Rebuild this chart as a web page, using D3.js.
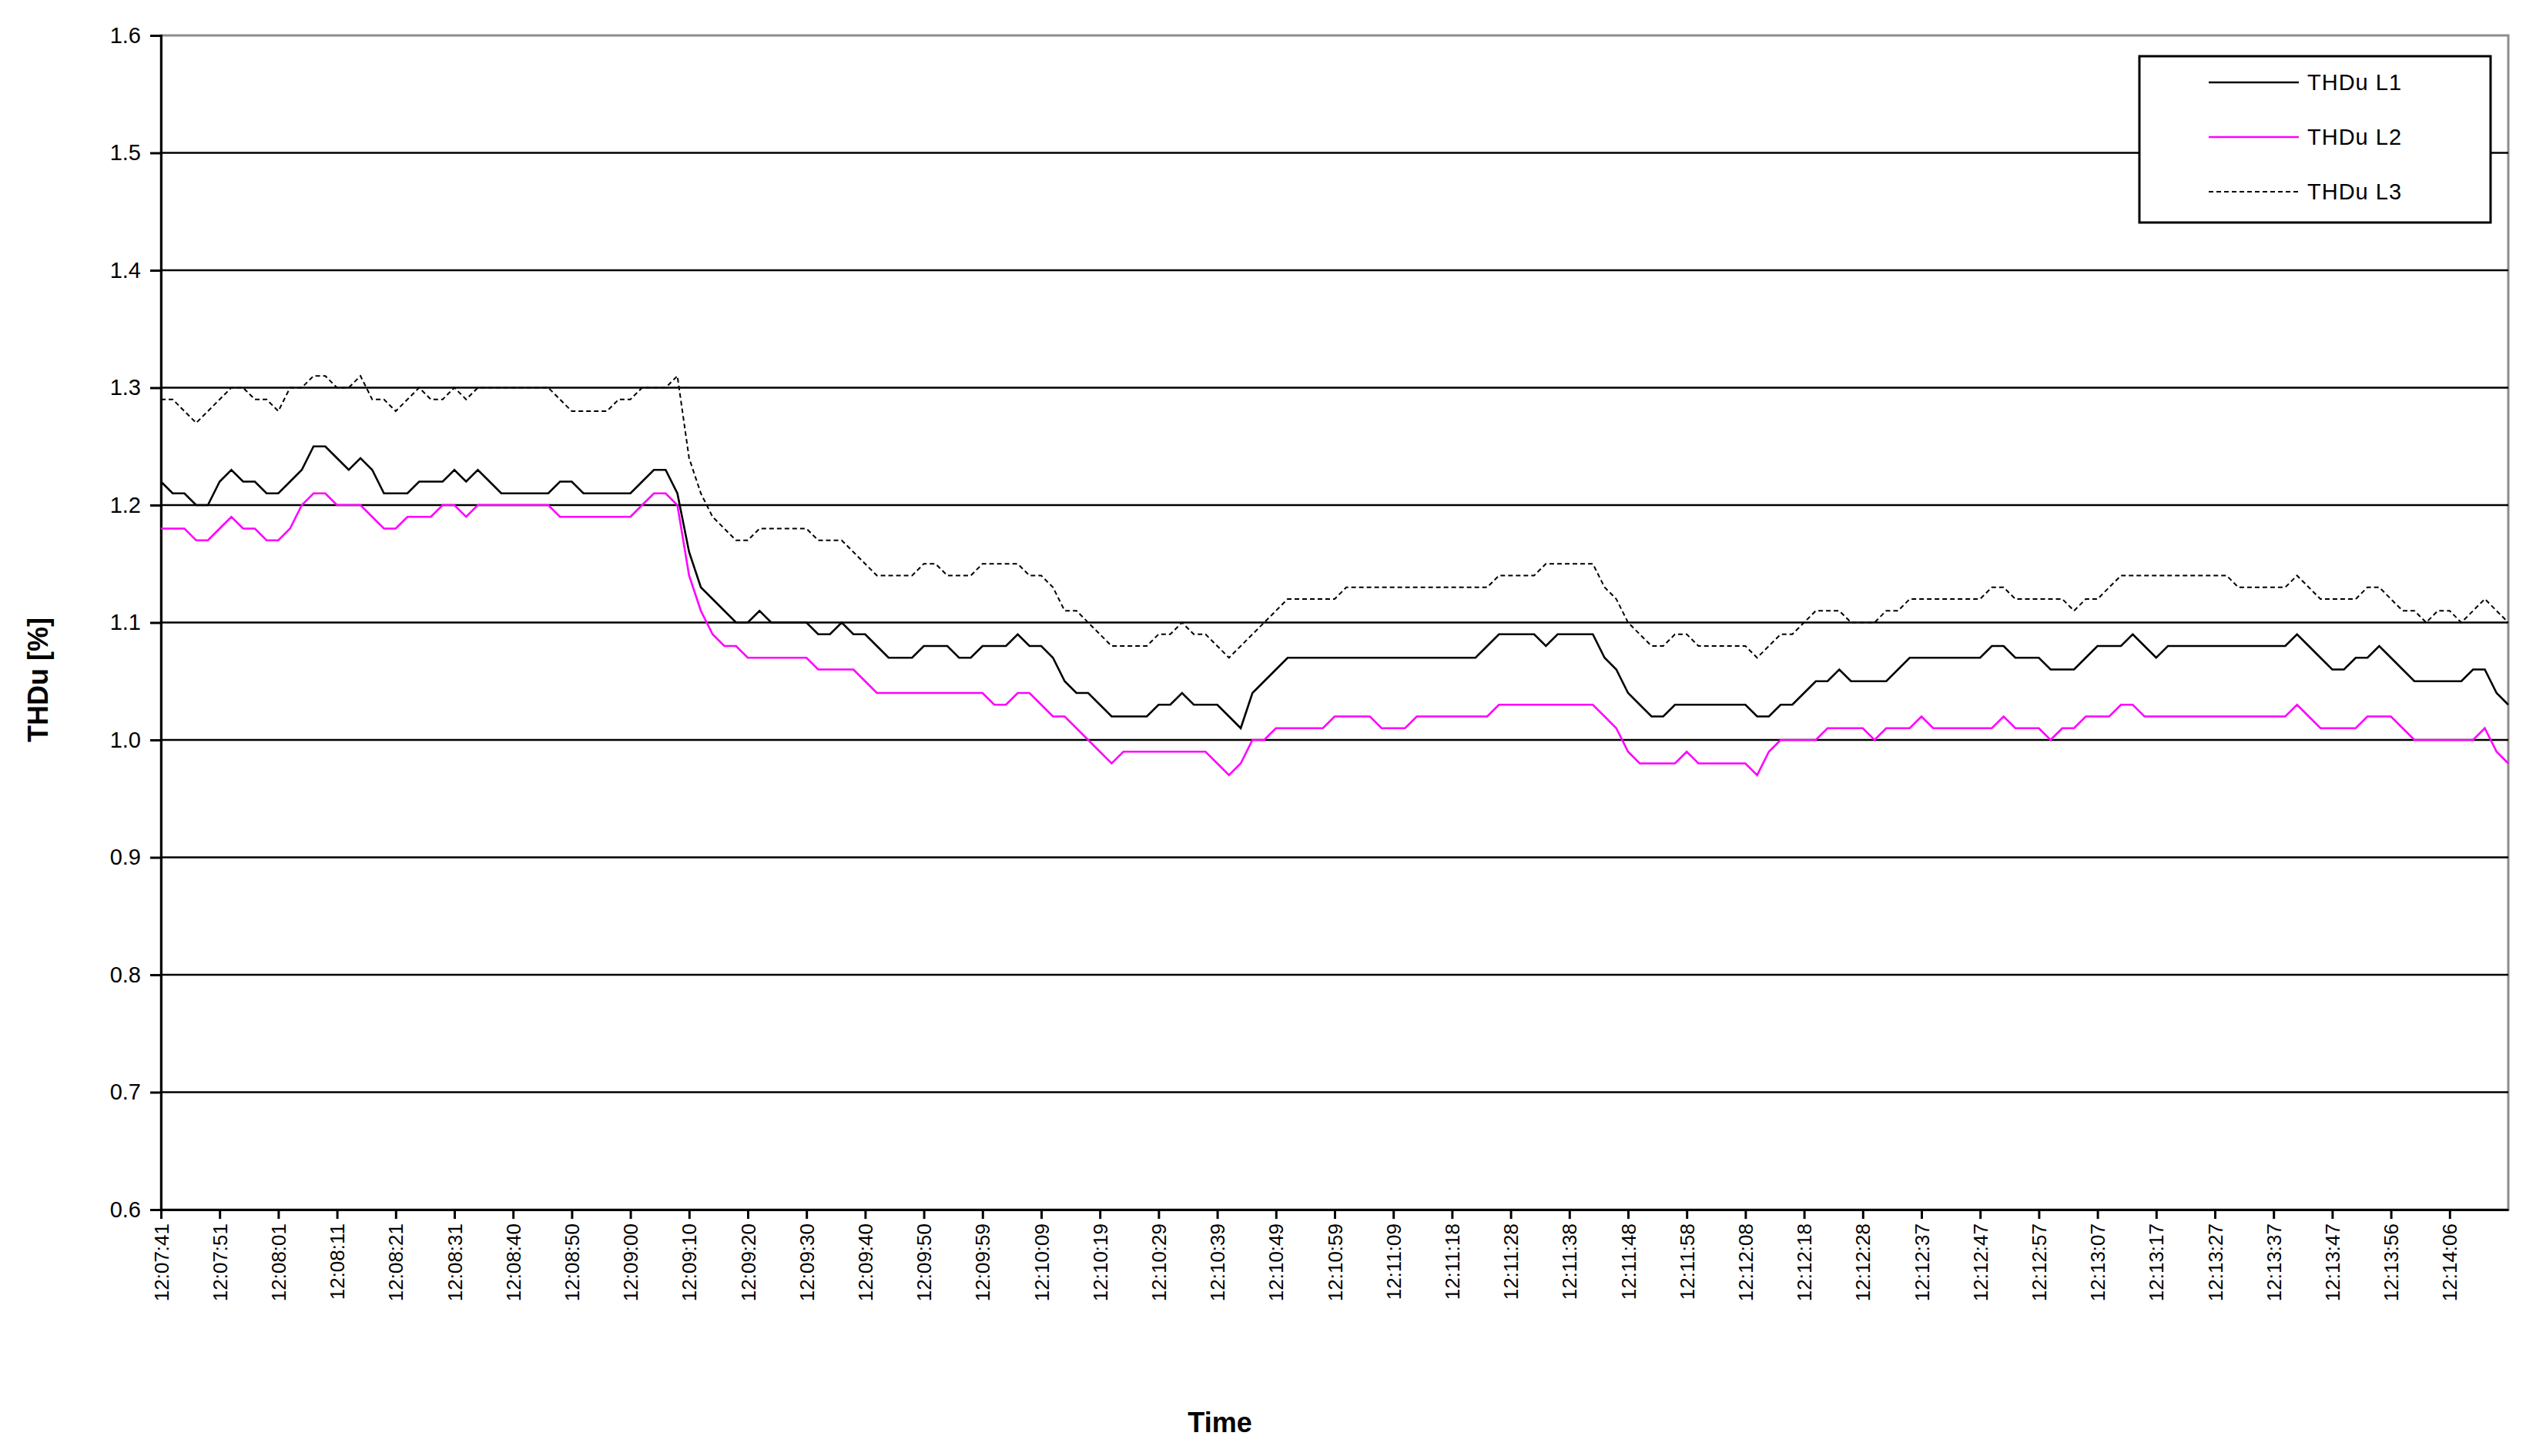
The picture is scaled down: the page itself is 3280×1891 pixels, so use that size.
<!DOCTYPE html>
<html>
<head>
<meta charset="UTF-8" />
<style>
  body { margin: 0; background: #fff; }
  text { font-family: "Liberation Sans", Arial, sans-serif; }
</style>
</head>
<body>
<script src="https://d3js.org/d3.v7.min.js"></script>
<svg id="chart" width="3280" height="1891"></svg>
<script>
// one point per two samples; a time label every 5 points
var timeLabels = ['12:07:41','12:07:51','12:08:01','12:08:11','12:08:21','12:08:31','12:08:40','12:08:50',
  '12:09:00','12:09:10','12:09:20','12:09:30','12:09:40','12:09:50','12:09:59','12:10:09','12:10:19',
  '12:10:29','12:10:39','12:10:49','12:10:59','12:11:09','12:11:18','12:11:28','12:11:38','12:11:48',
  '12:11:58','12:12:08','12:12:18','12:12:28','12:12:37','12:12:47','12:12:57','12:13:07','12:13:17',
  '12:13:27','12:13:37','12:13:47','12:13:56','12:14:06'];
var yTicks = [0.6, 0.7, 0.8, 0.9, 1.0, 1.1, 1.2, 1.3, 1.4, 1.5, 1.6];

var thdL1 = [
  1.22,1.21,1.21,1.20,1.20,1.22,1.23,1.22,1.22,1.21,
  1.21,1.22,1.23,1.25,1.25,1.24,1.23,1.24,1.23,1.21,
  1.21,1.21,1.22,1.22,1.22,1.23,1.22,1.23,1.22,1.21,
  1.21,1.21,1.21,1.21,1.22,1.22,1.21,1.21,1.21,1.21,
  1.21,1.22,1.23,1.23,1.21,1.16,1.13,1.12,1.11,1.10,
  1.10,1.11,1.10,1.10,1.10,1.10,1.09,1.09,1.10,1.09,
  1.09,1.08,1.07,1.07,1.07,1.08,1.08,1.08,1.07,1.07,
  1.08,1.08,1.08,1.09,1.08,1.08,1.07,1.05,1.04,1.04,
  1.03,1.02,1.02,1.02,1.02,1.03,1.03,1.04,1.03,1.03,
  1.03,1.02,1.01,1.04,1.05,1.06,1.07,1.07,1.07,1.07,
  1.07,1.07,1.07,1.07,1.07,1.07,1.07,1.07,1.07,1.07,
  1.07,1.07,1.07,1.08,1.09,1.09,1.09,1.09,1.08,1.09,
  1.09,1.09,1.09,1.07,1.06,1.04,1.03,1.02,1.02,1.03,
  1.03,1.03,1.03,1.03,1.03,1.03,1.02,1.02,1.03,1.03,
  1.04,1.05,1.05,1.06,1.05,1.05,1.05,1.05,1.06,1.07,
  1.07,1.07,1.07,1.07,1.07,1.07,1.08,1.08,1.07,1.07,
  1.07,1.06,1.06,1.06,1.07,1.08,1.08,1.08,1.09,1.08,
  1.07,1.08,1.08,1.08,1.08,1.08,1.08,1.08,1.08,1.08,
  1.08,1.08,1.09,1.08,1.07,1.06,1.06,1.07,1.07,1.08,
  1.07,1.06,1.05,1.05,1.05,1.05,1.05,1.06,1.06,1.04,
  1.03];
var thdL2 = [
  1.18,1.18,1.18,1.17,1.17,1.18,1.19,1.18,1.18,1.17,
  1.17,1.18,1.20,1.21,1.21,1.20,1.20,1.20,1.19,1.18,
  1.18,1.19,1.19,1.19,1.20,1.20,1.19,1.20,1.20,1.20,
  1.20,1.20,1.20,1.20,1.19,1.19,1.19,1.19,1.19,1.19,
  1.19,1.20,1.21,1.21,1.20,1.14,1.11,1.09,1.08,1.08,
  1.07,1.07,1.07,1.07,1.07,1.07,1.06,1.06,1.06,1.06,
  1.05,1.04,1.04,1.04,1.04,1.04,1.04,1.04,1.04,1.04,
  1.04,1.03,1.03,1.04,1.04,1.03,1.02,1.02,1.01,1.00,
  0.99,0.98,0.99,0.99,0.99,0.99,0.99,0.99,0.99,0.99,
  0.98,0.97,0.98,1.00,1.00,1.01,1.01,1.01,1.01,1.01,
  1.02,1.02,1.02,1.02,1.01,1.01,1.01,1.02,1.02,1.02,
  1.02,1.02,1.02,1.02,1.03,1.03,1.03,1.03,1.03,1.03,
  1.03,1.03,1.03,1.02,1.01,0.99,0.98,0.98,0.98,0.98,
  0.99,0.98,0.98,0.98,0.98,0.98,0.97,0.99,1.00,1.00,
  1.00,1.00,1.01,1.01,1.01,1.01,1.00,1.01,1.01,1.01,
  1.02,1.01,1.01,1.01,1.01,1.01,1.01,1.02,1.01,1.01,
  1.01,1.00,1.01,1.01,1.02,1.02,1.02,1.03,1.03,1.02,
  1.02,1.02,1.02,1.02,1.02,1.02,1.02,1.02,1.02,1.02,
  1.02,1.02,1.03,1.02,1.01,1.01,1.01,1.01,1.02,1.02,
  1.02,1.01,1.00,1.00,1.00,1.00,1.00,1.00,1.01,0.99,
  0.98];
var thdL3 = [
  1.29,1.29,1.28,1.27,1.28,1.29,1.30,1.30,1.29,1.29,
  1.28,1.30,1.30,1.31,1.31,1.30,1.30,1.31,1.29,1.29,
  1.28,1.29,1.30,1.29,1.29,1.30,1.29,1.30,1.30,1.30,
  1.30,1.30,1.30,1.30,1.29,1.28,1.28,1.28,1.28,1.29,
  1.29,1.30,1.30,1.30,1.31,1.24,1.21,1.19,1.18,1.17,
  1.17,1.18,1.18,1.18,1.18,1.18,1.17,1.17,1.17,1.16,
  1.15,1.14,1.14,1.14,1.14,1.15,1.15,1.14,1.14,1.14,
  1.15,1.15,1.15,1.15,1.14,1.14,1.13,1.11,1.11,1.10,
  1.09,1.08,1.08,1.08,1.08,1.09,1.09,1.10,1.09,1.09,
  1.08,1.07,1.08,1.09,1.10,1.11,1.12,1.12,1.12,1.12,
  1.12,1.13,1.13,1.13,1.13,1.13,1.13,1.13,1.13,1.13,
  1.13,1.13,1.13,1.13,1.14,1.14,1.14,1.14,1.15,1.15,
  1.15,1.15,1.15,1.13,1.12,1.10,1.09,1.08,1.08,1.09,
  1.09,1.08,1.08,1.08,1.08,1.08,1.07,1.08,1.09,1.09,
  1.10,1.11,1.11,1.11,1.10,1.10,1.10,1.11,1.11,1.12,
  1.12,1.12,1.12,1.12,1.12,1.12,1.13,1.13,1.12,1.12,
  1.12,1.12,1.12,1.11,1.12,1.12,1.13,1.14,1.14,1.14,
  1.14,1.14,1.14,1.14,1.14,1.14,1.14,1.13,1.13,1.13,
  1.13,1.13,1.14,1.13,1.12,1.12,1.12,1.12,1.13,1.13,
  1.12,1.11,1.11,1.10,1.11,1.11,1.10,1.11,1.12,1.11,
  1.10];

var seriesNames = ['THDu L1', 'THDu L2', 'THDu L3'];
var series = [
  { name: seriesNames[0], values: thdL1, color: '#000000', dash: null, width: 2.6 },
  { name: seriesNames[1], values: thdL2, color: '#ff00ff', dash: null, width: 2.6 },
  { name: seriesNames[2], values: thdL3, color: '#000000', dash: '6,4', width: 2 }
];

var svg = d3.select('#chart');
var plotLeft = 209, plotRight = 3257, plotTop = 46, plotBottom = 1571;

var x = d3.scaleLinear().domain([0, thdL1.length - 1]).range([plotLeft, plotRight]);
var y = d3.scaleLinear().domain([0.6, 1.6]).range([plotBottom, plotTop]);

// plot border (grey, Excel style)
svg.append('rect').attr('x', plotLeft).attr('y', plotTop)
  .attr('width', plotRight - plotLeft).attr('height', plotBottom - plotTop)
  .attr('fill', 'none').attr('stroke', '#8c8c8c').attr('stroke-width', 3);

// gridlines
svg.append('g').selectAll('line').data(yTicks.slice(1, -1)).join('line')
  .attr('x1', plotLeft).attr('x2', plotRight)
  .attr('y1', d => y(d)).attr('y2', d => y(d))
  .attr('stroke', '#000').attr('stroke-width', 2.5);

// y axis
var yAxis = svg.append('g').attr('transform', `translate(${plotLeft},0)`)
  .call(d3.axisLeft(y).tickValues(yTicks).tickFormat(d3.format('.1f')).tickSize(14).tickPadding(12));
yAxis.select('.domain').attr('stroke-width', 3);
yAxis.selectAll('.tick line').attr('stroke-width', 3);
yAxis.selectAll('text').attr('font-size', 29).attr('fill', '#000');

// x axis
var xTickIdx = timeLabels.map((t, i) => i * 5);
var xAxis = svg.append('g').attr('transform', `translate(0,${plotBottom})`)
  .call(d3.axisBottom(x).tickValues(xTickIdx).tickFormat((d, i) => timeLabels[i]).tickSize(12).tickSizeOuter(0));
xAxis.select('.domain').attr('stroke-width', 3);
xAxis.selectAll('.tick line').attr('stroke-width', 3);
xAxis.selectAll('text')
  .attr('font-size', 26).attr('fill', '#000')
  .attr('transform', 'rotate(-90)')
  .attr('text-anchor', 'end')
  .attr('x', -18).attr('y', 0).attr('dy', '0.35em');

// lines
var line = d3.line().x((d, i) => x(i)).y(d => y(d));
svg.append('g').selectAll('path').data(series).join('path')
  .attr('d', d => line(d.values))
  .attr('fill', 'none')
  .attr('stroke', d => d.color)
  .attr('stroke-width', d => d.width)
  .attr('stroke-dasharray', d => d.dash);

// axis titles
svg.append('text').attr('x', 1584).attr('y', 1860).attr('text-anchor', 'middle')
  .attr('font-size', 36).attr('font-weight', 'bold').text('Time');
svg.append('text').attr('transform', 'translate(62,883) rotate(-90)').attr('text-anchor', 'middle')
  .attr('font-size', 36).attr('font-weight', 'bold').text('THDu [%]');

// legend
var lg = svg.append('g');
lg.append('rect').attr('x', 2778).attr('y', 73).attr('width', 456).attr('height', 216)
  .attr('fill', '#fff').attr('stroke', '#000').attr('stroke-width', 3);
var items = lg.selectAll('g.item').data(series).join('g')
  .attr('transform', (d, i) => `translate(0,${107 + i * 71})`);
items.append('line').attr('x1', 2868).attr('x2', 2985).attr('y1', 0).attr('y2', 0)
  .attr('stroke', d => d.color).attr('stroke-width', d => d.width).attr('stroke-dasharray', d => d.dash);
items.append('text').attr('x', 2996).attr('y', 0).attr('dy', '0.35em')
  .attr('font-size', 29).attr('letter-spacing', 1).text(d => d.name);
</script>
</body>
</html>
